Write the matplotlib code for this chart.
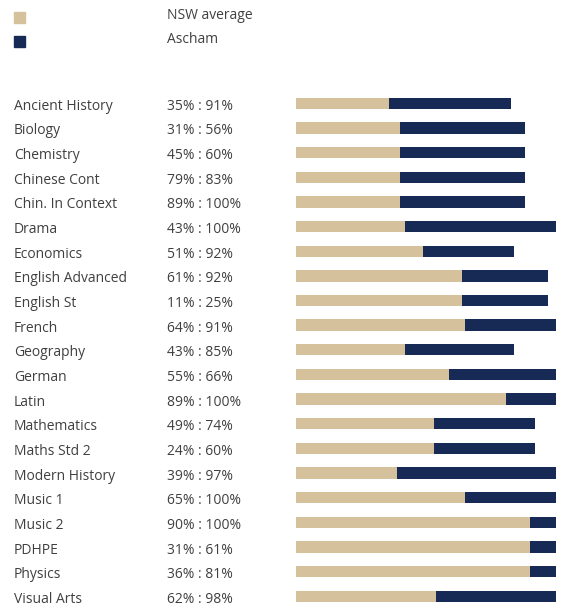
import matplotlib
matplotlib.use('Agg')
import matplotlib.pyplot as plt
from matplotlib.transforms import ScaledTranslation, blended_transform_factory
from matplotlib.patches import Rectangle

plt.rcParams['font.family'] = ['Open Sans', 'DejaVu Sans']

# Data
subjects = ['Ancient History', 'Biology', 'Chemistry', 'Chinese Cont', 'Chin. In Context',
            'Drama', 'Economics', 'English Advanced', 'English St', 'French', 'Geography',
            'German', 'Latin', 'Mathematics', 'Maths Std 2', 'Modern History', 'Music 1',
            'Music 2', 'PDHPE', 'Physics', 'Visual Arts']
ratio_labels = ['35% : 91%', '31% : 56%', '45% : 60%', '79% : 83%', '89% : 100%',
                '43% : 100%', '51% : 92%', '61% : 92%', '11% : 25%', '64% : 91%', '43% : 85%',
                '55% : 66%', '89% : 100%', '49% : 74%', '24% : 60%', '39% : 97%', '65% : 100%',
                '90% : 100%', '31% : 61%', '36% : 81%', '62% : 98%']
# bar lengths as drawn (tan part ends at nsw_bar, navy part ends at ascham_bar)
nsw_bar = [36, 40, 40, 40, 40, 42, 49, 64, 64, 65, 42, 59, 81, 53, 53, 39, 65, 90, 90, 90, 54]
ascham_bar = [83, 88, 88, 88, 88, 100, 84, 97, 97, 100, 84, 100, 100, 92, 92, 100, 100, 100, 100, 100, 100]

tan = '#D5C29C'
navy = '#172A55'
txt = '#404040'

W, H = 584, 613
fig = plt.figure(figsize=(W / 100, H / 100), dpi=100)

row_h = 24.65
top = 103.3 - row_h / 2
n = len(subjects)
ax = fig.add_axes([295.7 / W, 1 - (top + n * row_h) / H, 260 / W, n * row_h / H])
ax.set_xlim(0, 100)
ax.set_ylim(n - 0.5, -0.5)
ax.axis('off')

y = list(range(n))
seg = [a - b for a, b in zip(ascham_bar, nsw_bar)]
ax.barh(y, nsw_bar, height=0.46, color=tan, edgecolor='none')
ax.barh(y, seg, left=nsw_bar, height=0.46, color=navy, edgecolor='none')

# labels on the left, baseline a little below bar centre
tr = blended_transform_factory(fig.transFigure, ax.transData) + ScaledTranslation(0, -6.5 / 100, fig.dpi_scale_trans)
for i in range(n):
    ax.text(14 / W, i, subjects[i], transform=tr, fontsize=10, color=txt, va='baseline', ha='left')
    ax.text(167 / W, i, ratio_labels[i], transform=tr, fontsize=10, color=txt, va='baseline', ha='left')

# legend
for yy, col, name in [(12.3, tan, 'NSW average'), (35.7, navy, 'Ascham')]:
    fig.patches.append(Rectangle((14.3 / W, 1 - (yy + 11) / H), 11 / W, 11 / H,
                                 transform=fig.transFigure, color=col, figure=fig))
    fig.text(167 / W, 1 - (yy + 7) / H, name, fontsize=10, color=txt, va='baseline', ha='left')

fig.savefig('out.png', dpi=100)
